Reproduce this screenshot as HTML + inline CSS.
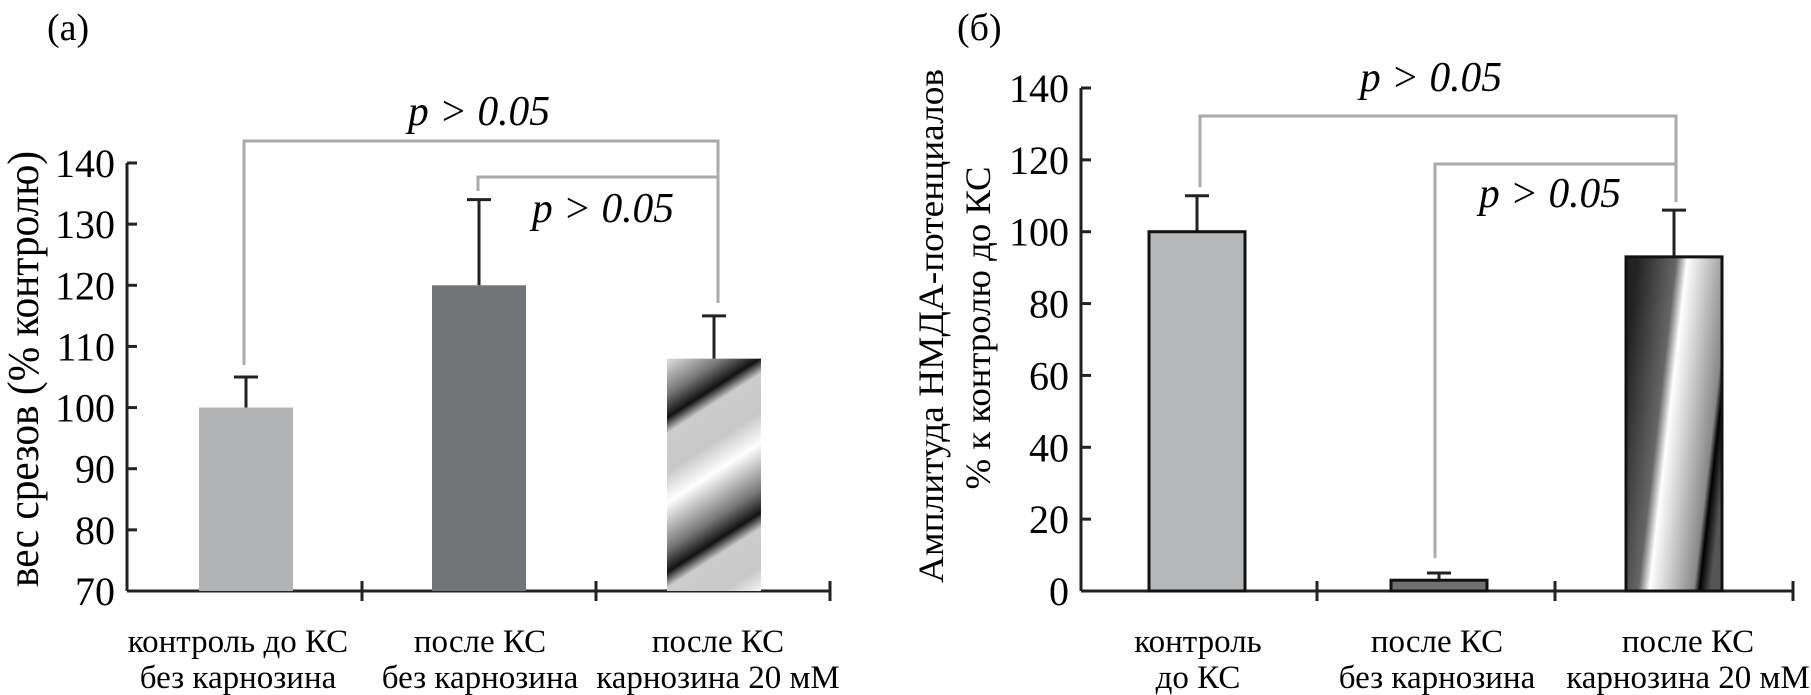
<!DOCTYPE html>
<html><head><meta charset="utf-8"><style>
body{margin:0;background:#fff}
svg{display:block}
text{font-family:"Liberation Serif","DejaVu Serif",serif}
</style></head><body>
<svg id="c" width="1811" height="695" viewBox="0 0 1811 695">
<defs>
<linearGradient id="stripeA" gradientUnits="userSpaceOnUse" x1="0" y1="0" x2="70" y2="110" spreadMethod="repeat">
<stop offset="0" stop-color="#fff"/><stop offset="0.3" stop-color="#777"/><stop offset="0.45" stop-color="#111"/><stop offset="0.55" stop-color="#ccc"/><stop offset="0.8" stop-color="#c8c8c8"/><stop offset="1" stop-color="#fff"/>
</linearGradient>
<linearGradient id="stripeB" x1="0" y1="0.3" x2="1" y2="0.7">
<stop offset="0" stop-color="#222"/><stop offset="0.35" stop-color="#666"/><stop offset="0.45" stop-color="#fff"/><stop offset="0.85" stop-color="#888"/><stop offset="0.9" stop-color="#000"/><stop offset="1" stop-color="#555"/>
</linearGradient>
</defs>
<text x="47" y="40" font-size="38" font-family="Liberation Serif, serif">(a)</text>
<text x="957" y="40" font-size="38" font-family="Liberation Serif, serif">(б)</text>
<text transform="translate(38,369) rotate(-90)" text-anchor="middle" font-size="44" font-family="Liberation Serif, serif" textLength="436" lengthAdjust="spacingAndGlyphs">вес срезов (% контролю)</text>
<text transform="translate(943,326) rotate(-90)" text-anchor="middle" font-size="36" font-family="Liberation Serif, serif" textLength="514" lengthAdjust="spacingAndGlyphs">Амплитуда НМДА-потенциалов</text>
<text transform="translate(990,328) rotate(-90)" text-anchor="middle" font-size="36" font-family="Liberation Serif, serif" textLength="323" lengthAdjust="spacingAndGlyphs">% к контролю до КС</text>
<g id="g"></g>
</svg>
<script>
const catsA1=["контроль до КС","после КС","после КС"];
const catsA2=["без карнозина","без карнозина","карнозина 20 мМ"];
const valsA=[100,120,108];
const errA=[105,134,115];
const ticksA=[70,80,90,100,110,120,130,140];
const catsB1=["контроль","после КС","после КС"];
const catsB2=["до КС","без карнозина","карнозина 20 мМ"];
const valsB=[100,3,93];
const errB=[110,5,106];
const ticksB=[0,20,40,60,80,100,120,140];
const NS="http://www.w3.org/2000/svg";
const g=document.getElementById('g');
function mk(t,a,txt){const e=document.createElementNS(NS,t);for(const k in a)e.setAttribute(k,a[k]);if(txt!==undefined){e.textContent=txt;e.setAttribute('font-family','Liberation Serif, serif');}g.appendChild(e);return e;}
function panel(o){
 const y=v=>o.y0+(v-o.min)/(o.max-o.min)*(o.y1-o.y0);
 let e=mk('line',{x1:o.ax,y1:o.y1,x2:o.ax,y2:o.y0,stroke:'#222','stroke-width':3});
 
 e=mk('line',{x1:o.ax,y1:o.y0,x2:o.xend,y2:o.y0,stroke:'#222','stroke-width':3});
 
 o.xt.forEach(x=>{e=mk('line',{x1:x,y1:o.y0-10,x2:x,y2:o.y0+10,stroke:'#222','stroke-width':3});
  });
 o.ticks.forEach(t=>{const yy=y(t);
  e=mk('line',{x1:o.ax,y1:yy,x2:o.ax+10,y2:yy,stroke:'#222','stroke-width':3});
  
  e=mk('text',{x:o.ax-12,y:yy+14,'text-anchor':'end','font-size':40},String(t));
  });
 o.vals.forEach((v,i)=>{const x=o.bx[i],w=o.bw,cx=x+w/2;
  e=mk('line',{x1:cx,y1:y(v),x2:cx,y2:y(o.err[i]),stroke:'#222','stroke-width':3});
  
  e=mk('line',{x1:cx-12,y1:y(o.err[i]),x2:cx+12,y2:y(o.err[i]),stroke:'#222','stroke-width':3});
  
  const a={x:x,y:y(v),width:w,height:o.y0-y(v),fill:o.fills[i]};
  if(o.stroke){a.stroke='#111';a['stroke-width']=3;}
  e=mk('rect',a);
  
  e=mk('text',{x:o.lx[i],y:652,'text-anchor':'middle','font-size':33},o.c1[i]);
  
  e=mk('text',{x:o.lx[i],y:688,'text-anchor':'middle','font-size':33},o.c2[i]);
  
 });
}
panel({id:'a',ax:127,xend:830,y0:591,y1:163,min:70,max:140,ticks:ticksA,vals:valsA,err:errA,
 bx:[199,432,667],bw:94,xt:[362,596,830],fills:['#b2b3b5','#737476','url(#stripeA)'],lx:[238,480,718],c1:catsA1,c2:catsA2});
panel({id:'b',ax:1081,xend:1793,y0:591,y1:88,min:0,max:140,ticks:ticksB,vals:valsB,err:errB,stroke:true,
 bx:[1149,1391,1626],bw:96,xt:[1317,1555,1793],fills:['#b5b7b9','#6e7072','url(#stripeB)'],lx:[1198,1437,1688],c1:catsB1,c2:catsB2});
function br(pts,name){const e=mk('polyline',{points:pts,fill:'none',stroke:'#aaa','stroke-width':3});
 }
br("244,365 244,141 718,141 718,303",'bracket-a-outer');
br("478,191 478,177 718,177",'bracket-a-inner');
br("1200,187 1200,116 1676,116 1676,202",'bracket-b-outer');
br("1435,558 1435,164 1676,164",'bracket-b-inner');
function pt(x,yv,name){const e=mk('text',{x:x,y:yv,'font-size':42,'font-style':'italic',textLength:142,lengthAdjust:'spacingAndGlyphs'},'p > 0.05');
 }
pt(408,125,'p-value-a-outer');pt(532,222,'p-value-a-inner');
pt(1360,91,'p-value-b-outer');pt(1479,207,'p-value-b-inner');
</script>
</body></html>
